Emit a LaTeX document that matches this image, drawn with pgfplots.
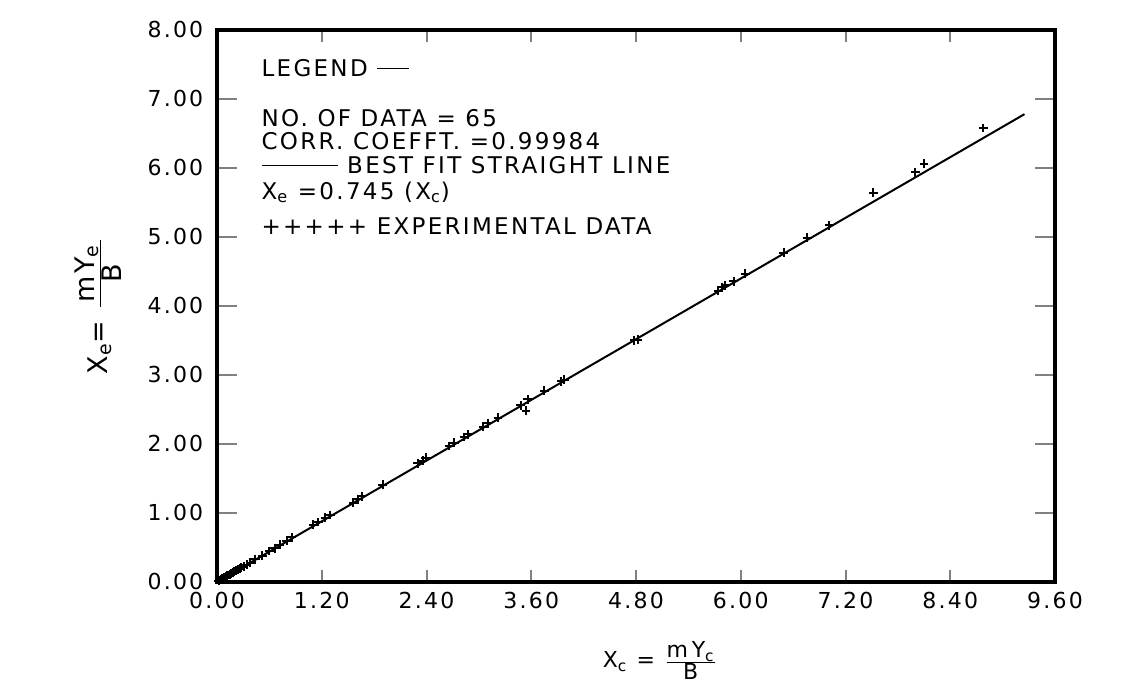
\documentclass[border=0pt]{standalone}
\usepackage{pgfplots}
\pgfplotsset{compat=1.18}
\usepackage{fontspec}
\setmainfont[LetterSpace=10]{DejaVu Sans}

\begin{document}
\fontsize{11}{13}\selectfont
\begin{tikzpicture}
\begin{axis}[
  scale only axis, width=419pt, height=276pt,
  xmin=0, xmax=9.6, ymin=0, ymax=8,
  xtick={0,1.2,...,9.61}, ytick={0,1,...,8},
  tick pos=both, tick align=inside,
  axis line style={line width=1.8pt},
  xtick style={line width=1pt, /pgfplots/major tick length=6pt},
  ytick style={line width=1pt, /pgfplots/major tick length=10pt},
  /pgf/number format/.cd, fixed, fixed zerofill, precision=2, assume math mode=true,
  /pgfplots/.cd,
  ticklabel style={font=\fontsize{11}{13}\selectfont},
  yticklabel style={xshift=-3pt},
  xticklabel style={yshift=-1pt},
  xlabel={X\textsubscript{c} = $\frac{\mbox{m\,Y\textsubscript{c}}}{\mbox{B}}$},
  ylabel={X\textsubscript{e}= $\frac{\mbox{\,mY\textsubscript{e}\,}}{\mbox{B}}$},
  ylabel style={at={(axis description cs:-0.142,0.5)}, anchor=center,
    font=\fontsize{13.5}{15}\selectfont},
  xlabel style={at={(axis description cs:0.5,0)}, anchor=north, yshift=-26pt, xshift=12pt},
]
% best fit straight line
\addplot[no marks, line width=1pt] coordinates {(0,0) (9.25,6.78)};
% experimental data
\addplot[only marks, mark=+, mark size=2.2pt, line width=1pt] coordinates {
 (0.02,0.015) (0.04,0.03) (0.05,0.04) (0.06,0.045) (0.08,0.06) (0.09,0.07)
 (0.10,0.075) (0.12,0.09) (0.13,0.10) (0.15,0.11) (0.16,0.12) (0.18,0.135)
 (0.20,0.15) (0.22,0.165) (0.24,0.18) (0.26,0.19) (0.28,0.21) (0.31,0.23)
 (0.34,0.25) (0.38,0.28) (0.44,0.33) (0.52,0.38)
 (0.60,0.45) (0.66,0.49) (0.72,0.54) (0.80,0.60) (0.86,0.65) (1.10,0.83)
 (1.16,0.87) (1.24,0.93) (1.30,0.97) (1.56,1.15) (1.62,1.20) (1.66,1.24)
 (1.90,1.41) (2.30,1.72) (2.36,1.76) (2.39,1.80) (2.66,1.97) (2.72,2.02)
 (2.83,2.10) (2.88,2.14) (3.05,2.25) (3.10,2.30) (3.22,2.38) (3.48,2.56)
 (3.54,2.48) (3.56,2.65) (3.75,2.77) (3.94,2.91) (3.98,2.93) (4.78,3.50)
 (4.82,3.51)
 (5.74,4.22) (5.78,4.27) (5.82,4.30) (5.92,4.36) (6.05,4.47) (6.49,4.77)
 (6.76,4.99) (7.01,5.17) (7.52,5.64) (8.00,5.94) (8.10,6.06) (8.78,6.58)
};
% legend block
\begin{scope}[font=\fontsize{11.5}{13}\selectfont]
\node[anchor=west] at (rel axis cs:0.044,0.931) {LEGEND \rule[0.32em]{16pt}{0.7pt}};
\node[anchor=west] at (rel axis cs:0.044,0.841) {NO. OF DATA = 65};
\node[anchor=west] at (rel axis cs:0.044,0.799) {CORR. COEFFT. =0.99984};
\node[anchor=west] at (rel axis cs:0.044,0.755) {\rule[0.32em]{38pt}{0.7pt} BEST FIT STRAIGHT LINE};
\node[anchor=west] at (rel axis cs:0.044,0.706) {X\textsubscript{e} =0.745 (X\textsubscript{c})};
\node[anchor=west] at (rel axis cs:0.044,0.645) {+{}+{}+{}+{}+ EXPERIMENTAL DATA};
\end{scope}
\end{axis}
\pgfresetboundingbox
\path (current axis.south west)++(-108.5pt,-53pt) coordinate (bl);
\path (current axis.north east)++(36.5pt,15pt) coordinate (tr);
\path (bl) rectangle (tr);
\end{tikzpicture}
\end{document}
